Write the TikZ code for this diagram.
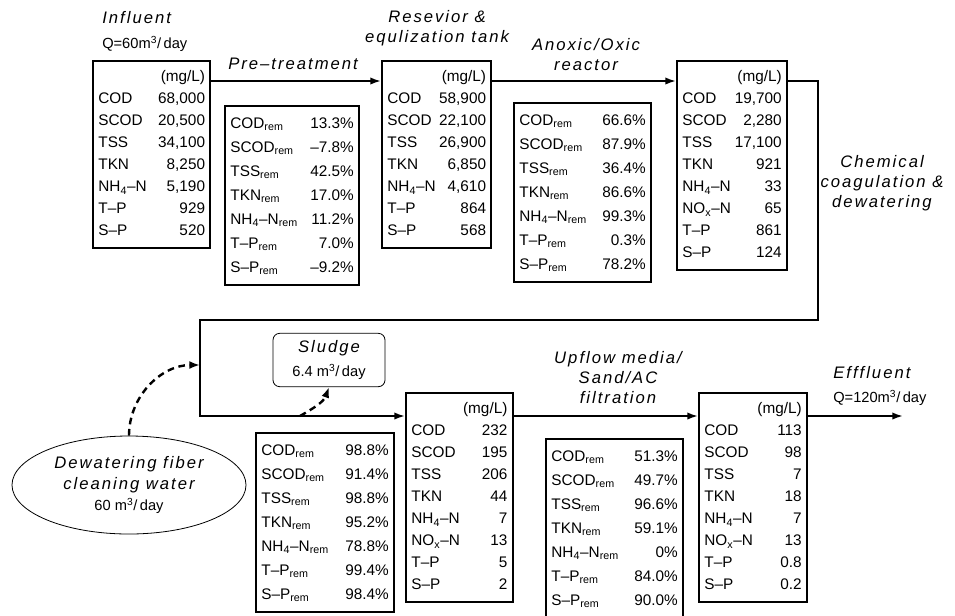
\documentclass[tikz,border=0pt]{standalone}
\usepackage{fontspec}
\setmainfont{Liberation Sans}
\newfontfamily\lblfont[LetterSpace=12]{Liberation Sans}
\usetikzlibrary{arrows.meta,shapes.geometric}

\newcommand{\remsub}{\textsubscript{rem}}
\newcommand{\nhn}{NH\textsubscript{4}--N}
\newcommand{\noxn}{NO\textsubscript{x}--N}
\newcommand{\mcube}{m\textsuperscript{3}}

\begin{document}
\begin{tikzpicture}[
  x=0.75pt, y=0.75pt,
  conc/.style={draw, line width=1.6pt, anchor=north west, inner xsep=4pt, inner ysep=4pt,
    font=\fontsize{11.5}{16.5}\selectfont},
  remv/.style={conc, font=\fontsize{11.5}{18}\selectfont},
  lbl/.style={font=\lblfont\itshape\fontsize{12.5}{15}\selectfont, align=center, inner sep=0pt},
  qlbl/.style={anchor=west, inner sep=0pt, font=\fontsize{11}{13}\selectfont},
  flow/.style={line width=1.4pt, -{Latex[length=8pt,width=5.5pt]}},
  recyc/.style={line width=1.8pt, dash pattern=on 5pt off 3.5pt, -{Latex[length=8pt,width=6pt]}}
]
  \useasboundingbox (0,0) rectangle (955,-615);

  % influent
  \node[lbl, anchor=west] (inlbl) at (102,-18) {Influent};
  \node[qlbl] (inq) at (102,-44) {Q=60\mcube/\,day};
  \node[conc] (inflow) at (92,-60) {\begin{tabular*}{80pt}{@{}l@{\extracolsep{\fill}}r@{}}
    \multicolumn{2}{@{}r@{}}{(mg/L)}\\
    COD & 68,000\\ SCOD & 20,500\\ TSS & 34,100\\ TKN & 8,250\\
    \nhn & 5,190\\ T--P & 929\\ S--P & 520
  \end{tabular*}};

  % pre-treatment
  \node[lbl, anchor=west] (prelbl) at (228,-64) {Pre\textendash treatment};
  \node[remv] (rmpre) at (224,-105) {\begin{tabular*}{92.5pt}{@{}l@{\extracolsep{\fill}}r@{}}
    COD\remsub & 13.3\%\\ SCOD\remsub & --7.8\%\\ TSS\remsub & 42.5\%\\ TKN\remsub & 17.0\%\\
    \nhn\remsub & 11.2\%\\ T--P\remsub & 7.0\%\\ S--P\remsub & --9.2\%
  \end{tabular*}};

  % reservoir
  \node[lbl] (tanklbl) at (437,-28) {Resevior \&\\equlization tank};
  \node[conc] (tank) at (381,-60) {\begin{tabular*}{74pt}{@{}l@{\extracolsep{\fill}}r@{}}
    \multicolumn{2}{@{}r@{}}{(mg/L)}\\
    COD & 58,900\\ SCOD & 22,100\\ TSS & 26,900\\ TKN & 6,850\\
    \nhn & 4,610\\ T--P & 864\\ S--P & 568
  \end{tabular*}};

  % anoxic/oxic
  \node[lbl] (aoxlbl) at (586,-55) {Anoxic/Oxic\\reactor};
  \node[remv] (rmaox) at (513,-102) {\begin{tabular*}{94.75pt}{@{}l@{\extracolsep{\fill}}r@{}}
    COD\remsub & 66.6\%\\ SCOD\remsub & 87.9\%\\ TSS\remsub & 36.4\%\\ TKN\remsub & 86.6\%\\
    \nhn\remsub & 99.3\%\\ T--P\remsub & 0.3\%\\ S--P\remsub & 78.2\%
  \end{tabular*}};
  \node[conc] (reactor) at (676,-60) {\begin{tabular*}{74.5pt}{@{}l@{\extracolsep{\fill}}r@{}}
    \multicolumn{2}{@{}r@{}}{(mg/L)}\\
    COD & 19,700\\ SCOD & 2,280\\ TSS & 17,100\\ TKN & 921\\
    \nhn & 33\\ \noxn & 65\\ T--P & 861\\ S--P & 124
  \end{tabular*}};

  % coagulation
  \node[lbl] (coaglbl) at (882,-183) {Chemical\\coagulation \&\\dewatering};
  \node[draw, rounded corners=5pt, line width=0.6pt, minimum width=84pt, minimum height=40pt,
    align=center, font=\fontsize{11}{15}\selectfont] (sl) at (329,-360)
    {{\lblfont\itshape\fontsize{12.5}{15}\selectfont Sludge}\\[3pt]6.4 \mcube/\,day};
  \node[ellipse, draw, line width=0.6pt, minimum width=175.5pt, minimum height=73.5pt, align=center,
    font=\lblfont\itshape\fontsize{12.5}{16}\selectfont] (dw) at (129,-485)
    {Dewatering fiber\\cleaning water\\\rmfamily\upshape\fontsize{11}{16}\selectfont 60 \mcube/\,day};
  \node[remv] (rmcoag) at (255,-432) {\begin{tabular*}{95.5pt}{@{}l@{\extracolsep{\fill}}r@{}}
    COD\remsub & 98.8\%\\ SCOD\remsub & 91.4\%\\ TSS\remsub & 98.8\%\\ TKN\remsub & 95.2\%\\
    \nhn\remsub & 78.8\%\\ T--P\remsub & 99.4\%\\ S--P\remsub & 98.4\%
  \end{tabular*}};
  \node[conc] (coag) at (405,-392) {\begin{tabular*}{72pt}{@{}l@{\extracolsep{\fill}}r@{}}
    \multicolumn{2}{@{}r@{}}{(mg/L)}\\
    COD & 232\\ SCOD & 195\\ TSS & 206\\ TKN & 44\\
    \nhn & 7\\ \noxn & 13\\ T--P & 5\\ S--P & 2
  \end{tabular*}};

  % filtration
  \node[lbl] (filtlbl) at (618,-378) {Upflow media/\\Sand/AC\\filtration};
  \node[remv] (rmfilt) at (545,-438) {\begin{tabular*}{94.75pt}{@{}l@{\extracolsep{\fill}}r@{}}
    COD\remsub & 51.3\%\\ SCOD\remsub & 49.7\%\\ TSS\remsub & 96.6\%\\ TKN\remsub & 59.1\%\\
    \nhn\remsub & 0\%\\ T--P\remsub & 84.0\%\\ S--P\remsub & 90.0\%
  \end{tabular*}};
  \node[conc] (effl) at (698,-392) {\begin{tabular*}{73pt}{@{}l@{\extracolsep{\fill}}r@{}}
    \multicolumn{2}{@{}r@{}}{(mg/L)}\\
    COD & 113\\ SCOD & 98\\ TSS & 7\\ TKN & 18\\
    \nhn & 7\\ \noxn & 13\\ T--P & 0.8\\ S--P & 0.2
  \end{tabular*}};

  % effluent
  \node[lbl, anchor=west] (efflbl) at (833,-373) {Efffluent};
  \node[qlbl] (effq) at (833,-398) {Q=120\mcube/\,day};

  % pipes
  \coordinate (turnR) at (818,-320);
  \coordinate (turnL) at (200,-320);
  \coordinate (join) at (200,-365);
  \coordinate (tap) at (300,-416);
  \coordinate (outlet) at (903,-416);
  \draw[flow] ([yshift=-15.75pt]inflow.north east) -- ([yshift=-15.75pt]tank.north west);
  \draw[flow] ([yshift=-15.75pt]tank.north east) -- ([yshift=-15.75pt]reactor.north west);
  \draw[flow] ([yshift=-15.75pt]reactor.north east) -| (turnR) -- (turnL) |- ([yshift=-18pt]coag.north west);
  \draw[flow] ([yshift=-18pt]coag.north east) -- ([yshift=-18pt]effl.north west);
  \draw[flow] ([yshift=-18pt]effl.north east) -- (outlet);

  % recycle / sludge
  \draw[recyc] (dw.north) to[out=90,in=180] (join);
  \draw[recyc] (tap) to[out=30,in=-110] (sl.south);
\end{tikzpicture}
\end{document}
